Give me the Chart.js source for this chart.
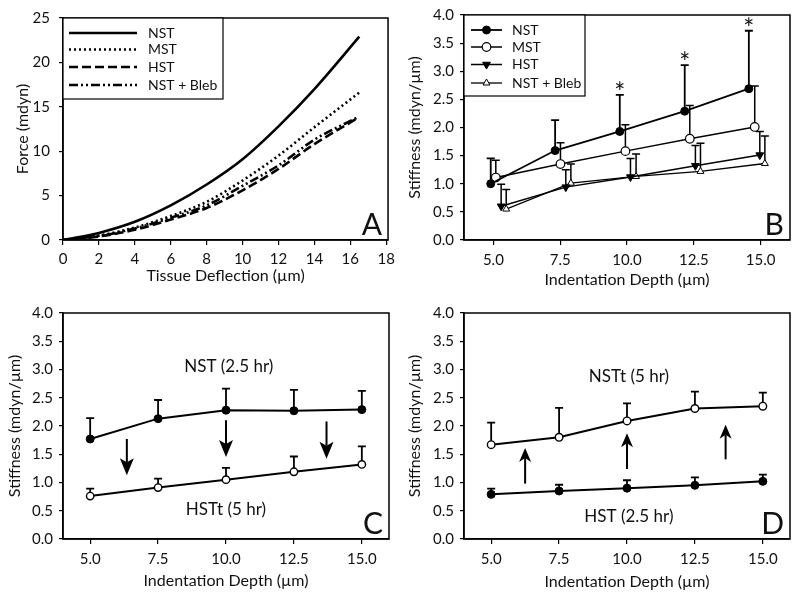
<!DOCTYPE html>
<html>
<head>
<meta charset="utf-8">
<script src="https://cdn.jsdelivr.net/npm/chart.js@4/dist/chart.umd.min.js"></script>
<style>
  body { margin: 0; background: #fff; }
  canvas { position: absolute; }
</style>
</head>
<body>
<canvas id="chartA" width="400" height="297" style="left:0;top:0"></canvas>
<canvas id="chartB" width="400" height="297" style="left:400px;top:0"></canvas>
<canvas id="chartC" width="400" height="297" style="left:0;top:298px"></canvas>
<canvas id="chartD" width="400" height="297" style="left:400px;top:298px"></canvas>
<script>
// ---- panel A: force vs tissue deflection
var deflNST = [0, 2, 4, 6, 8, 10, 12, 14, 16.5];
var forceNST = [0, 0.8, 2.05, 3.9, 6.25, 9.1, 12.8, 17.0, 22.9];
var deflMST = [0, 2, 4, 6, 8, 10, 12, 14, 16.5];
var forceMST = [0, 0.5, 1.4, 2.7, 4.3, 6.7, 9.5, 12.7, 16.6];
var deflHST = [0, 2, 4, 6, 8, 10, 12, 14, 16.3];
var forceHST = [0, 0.4, 1.15, 2.3, 3.6, 5.6, 8.0, 10.8, 13.6];
var deflBleb = [0, 2, 4, 6, 8, 10, 12, 14, 16.4];
var forceBleb = [0, 0.45, 1.3, 2.5, 3.9, 6.1, 8.4, 11.3, 13.8];
var ticksDefl = [0, 2, 4, 6, 8, 10, 12, 14, 16, 18];
var ticksForce = [0, 5, 10, 15, 20, 25];

// ---- panel B: stiffness vs depth, 4 groups (upper error bars)
var depthNST_B = [4.90, 7.31, 9.73, 12.16, 14.56];
var stiffNST_B = [1.00, 1.59, 1.93, 2.29, 2.69];
var errNST_B = [1.45, 2.13, 2.58, 3.11, 3.72];
var depthMST_B = [5.09, 7.51, 9.94, 12.35, 14.78];
var stiffMST_B = [1.11, 1.35, 1.58, 1.80, 2.01];
var errMST_B = [1.42, 1.73, 2.05, 2.39, 2.74];
var depthHST_B = [5.29, 7.71, 10.13, 12.56, 14.97];
var stiffHST_B = [0.60, 0.94, 1.12, 1.32, 1.51];
var errHST_B = [0.99, 1.25, 1.45, 1.68, 1.93];
var depthBleb_B = [5.48, 7.90, 10.34, 12.75, 15.16];
var stiffBleb_B = [0.55, 1.01, 1.13, 1.22, 1.36];
var errBleb_B = [0.90, 1.35, 1.53, 1.72, 1.85];
var starIdx_B = [2, 3, 4];

// ---- panels C and D
var depth = [5, 7.5, 10, 12.5, 15];
var ticksDepth = [5, 7.5, 10, 12.5, 15];
var ticksStiff = [0, 0.5, 1, 1.5, 2, 2.5, 3, 3.5, 4];
var stiffNST_C = [1.77, 2.13, 2.28, 2.27, 2.29];
var errNST_C = [2.14, 2.46, 2.66, 2.64, 2.62];
var stiffHSTt_C = [0.76, 0.91, 1.05, 1.19, 1.32];
var errHSTt_C = [0.89, 1.07, 1.26, 1.46, 1.64];
var stiffNSTt_D = [1.67, 1.80, 2.09, 2.31, 2.35];
var errNSTt_D = [2.06, 2.32, 2.40, 2.61, 2.59];
var stiffHST_D = [0.79, 0.85, 0.90, 0.95, 1.02];
var errHST_D = [0.89, 0.96, 1.04, 1.09, 1.14];

// arrows: x position, start value, end value
var arrowX_C = [6.35, 10.0, 13.7];
var arrowFrom_C = [1.77, 2.10, 2.08];
var arrowTo_C = [1.13, 1.45, 1.42];
var arrowX_D = [6.25, 10.0, 13.63];
var arrowFrom_D = [0.98, 1.24, 1.41];
var arrowTo_D = [1.61, 1.87, 2.02];

var FONT = 'Lato';
var INK = '#111';
var TICK_SIZE = 15;
var TITLE_SIZE = 16;

function pts(xs, ys) {
  return xs.map(function (x, i) { return { x: x, y: ys[i] }; });
}

function decor(cfg) {
  return {
    id: 'decor' + cfg.letter,
    beforeDatasetsDraw: function (chart) {
      var ctx = chart.ctx, sx = chart.scales.x, sy = chart.scales.y;
      ctx.save();
      ctx.strokeStyle = '#000';
      chart.data.datasets.forEach(function (ds) {
        if (!ds.errUp) return;
        ctx.lineWidth = ds.errWidth || 1.5;
        ds.data.forEach(function (p, i) {
          var x = sx.getPixelForValue(p.x);
          var y0 = sy.getPixelForValue(p.y);
          var y1 = sy.getPixelForValue(ds.errUp[i]);
          ctx.beginPath();
          ctx.moveTo(x, y0); ctx.lineTo(x, y1);
          ctx.moveTo(x - 4, y1); ctx.lineTo(x + 4, y1);
          ctx.stroke();
        });
      });
      ctx.restore();
    },
    afterDraw: function (chart) {
      var ctx = chart.ctx, a = chart.chartArea, sx = chart.scales.x, sy = chart.scales.y;
      ctx.save();
      // frame
      ctx.strokeStyle = '#000';
      ctx.lineWidth = 1.5;
      ctx.strokeRect(a.left, a.top, a.right - a.left, a.bottom - a.top);

      // arrows
      if (cfg.arrows) {
        var ar = cfg.arrows, hw = ar.headW, hl = ar.headL;
        ar.x.forEach(function (xv, i) {
          var x = sx.getPixelForValue(xv);
          var y0 = sy.getPixelForValue(ar.from[i]);
          var y1 = sy.getPixelForValue(ar.to[i]);
          var dir = y1 > y0 ? 1 : -1;
          ctx.lineWidth = 2;
          ctx.beginPath(); ctx.moveTo(x, y0); ctx.lineTo(x, y1 - dir * (hl - 4)); ctx.stroke();
          ctx.fillStyle = '#000';
          ctx.beginPath();
          ctx.moveTo(x, y1);
          ctx.lineTo(x - hw, y1 - dir * hl);
          ctx.lineTo(x, y1 - dir * (hl - 4));
          ctx.lineTo(x + hw, y1 - dir * hl);
          ctx.closePath();
          ctx.fill();
        });
      }

      // text notes
      ctx.fillStyle = INK;
      if (cfg.notes) {
        ctx.font = '17px ' + FONT;
        ctx.textAlign = 'center';
        ctx.textBaseline = 'middle';
        cfg.notes.forEach(function (n) {
          ctx.fillText(n.text, sx.getPixelForValue(n.x), sy.getPixelForValue(n.y));
        });
      }

      // significance stars above the NST error caps
      if (cfg.stars) {
        var ds = chart.data.datasets[cfg.stars.dataset];
        ctx.font = '26px ' + FONT;
        ctx.textAlign = 'center';
        ctx.textBaseline = 'alphabetic';
        cfg.stars.idx.forEach(function (i) {
          ctx.fillText('*', sx.getPixelForValue(ds.data[i].x), sy.getPixelForValue(ds.errUp[i]) + 7);
        });
      }

      // panel letter
      ctx.font = '30px ' + FONT;
      ctx.textAlign = 'right';
      ctx.textBaseline = 'alphabetic';
      ctx.fillText(cfg.letter, a.right - 6, a.bottom - 5);

      // boxed legend
      if (cfg.legend) {
        var lg = cfg.legend;
        var bx = a.left, by = a.top;
        ctx.fillStyle = '#fff';
        ctx.fillRect(bx, by, lg.w, lg.h);
        ctx.lineWidth = 1.2;
        ctx.strokeStyle = '#000';
        ctx.strokeRect(bx, by, lg.w, lg.h);
        chart.data.datasets.forEach(function (d, i) {
          var y = by + lg.rows[i];
          ctx.strokeStyle = '#000';
          ctx.lineWidth = d.borderWidth;
          ctx.setLineDash(d.borderDash || []);
          ctx.beginPath();
          ctx.moveTo(bx + lg.x0, y); ctx.lineTo(bx + lg.x1, y);
          ctx.stroke();
          ctx.setLineDash([]);
          if (d.pointRadius > 0) {
            ctx.fillStyle = d.pointBackgroundColor;
            ctx.strokeStyle = '#000';
            ctx.lineWidth = d.pointBorderWidth;
            Chart.helpers.drawPoint(ctx, {
              pointStyle: d.pointStyle, radius: d.pointRadius,
              rotation: d.pointRotation || 0, borderWidth: d.pointBorderWidth
            }, bx + (lg.x0 + lg.x1) / 2, y);
          }
          ctx.fillStyle = INK;
          ctx.font = '14px ' + FONT;
          ctx.textAlign = 'left';
          ctx.textBaseline = 'middle';
          ctx.fillText(d.label, bx + lg.tx, y);
        });
      }
      ctx.restore();
    }
  };
}

function axes(o) {
  return {
    x: {
      type: 'linear', min: o.xmin, max: o.xmax,
      afterBuildTicks: function (s) { s.ticks = o.xticks.map(function (v) { return { value: v }; }); },
      afterFit: function (s) { s.height = o.xh; },
      grid: { drawOnChartArea: false, tickLength: 5, color: '#000', lineWidth: 1.2 },
      border: { color: '#000', width: 1.5 },
      ticks: {
        color: INK, font: { family: FONT, size: TICK_SIZE }, padding: o.xpad, maxRotation: 0,
        callback: o.xfmt
      },
      title: { display: true, text: o.xtitle, color: INK, font: { family: FONT, size: TITLE_SIZE }, padding: { top: 0, bottom: o.xtpad } }
    },
    y: {
      type: 'linear', min: o.ymin, max: o.ymax,
      afterBuildTicks: function (s) { s.ticks = o.yticks.map(function (v) { return { value: v }; }); },
      afterFit: function (s) { s.width = o.yw; },
      grid: { drawOnChartArea: false, tickLength: 4, color: '#000', lineWidth: 1.2 },
      border: { color: '#000', width: 1.5 },
      ticks: { color: INK, font: { family: FONT, size: TICK_SIZE }, padding: o.ypad, callback: o.yfmt },
      title: { display: true, text: o.ytitle, color: INK, font: { family: FONT, size: TITLE_SIZE }, padding: { top: o.ytpad, bottom: 0 } }
    }
  };
}

function baseOptions(pad, scales) {
  return {
    responsive: false,
    animation: false,
    events: [],
    layout: { padding: pad },
    plugins: { legend: { display: false }, tooltip: { enabled: false } },
    scales: scales
  };
}

var fmt1 = function (v) { return Number(v).toFixed(1); };
var fmt0 = function (v) { return String(v); };

// ---------------- A
new Chart(document.getElementById('chartA'), {
  type: 'line',
  data: {
    datasets: [
      { label: 'NST', data: pts(deflNST, forceNST), borderColor: '#000', borderWidth: 2.6, pointRadius: 0, cubicInterpolationMode: 'monotone' },
      { label: 'MST', data: pts(deflMST, forceMST), borderColor: '#000', borderWidth: 2.6, borderDash: [2, 3], pointRadius: 0, cubicInterpolationMode: 'monotone' },
      { label: 'HST', data: pts(deflHST, forceHST), borderColor: '#000', borderWidth: 2.6, borderDash: [9, 4], pointRadius: 0, cubicInterpolationMode: 'monotone' },
      { label: 'NST + Bleb', data: pts(deflBleb, forceBleb), borderColor: '#000', borderWidth: 2.6, borderDash: [9, 3, 2, 3, 2, 3], pointRadius: 0, cubicInterpolationMode: 'monotone' }
    ]
  },
  options: baseOptions({ top: 12, right: 11, left: 0, bottom: 0 }, axes({
    xmin: 0, xmax: 18.1, xticks: ticksDefl, xh: 57, xpad: 5, xtpad: 12, xfmt: fmt0, xtitle: 'Tissue Deflection (\u00b5m)',
    ymin: 0, ymax: 25, yticks: ticksForce, yw: 63, ypad: 9, ytpad: 13, yfmt: fmt0, ytitle: 'Force (mdyn)'
  })),
  plugins: [decor({ letter: 'A', legend: { w: 160, h: 81, rows: [15, 31.5, 49, 67], x0: 6, x1: 74, tx: 85 } })]
});

// ---------------- B
new Chart(document.getElementById('chartB'), {
  type: 'line',
  data: {
    datasets: [
      { label: 'NST', data: pts(depthNST_B, stiffNST_B), errUp: errNST_B, errWidth: 1.8, borderColor: '#000', borderWidth: 1.8,
        pointStyle: 'circle', pointRadius: 4, pointBackgroundColor: '#000', pointBorderColor: '#000', pointBorderWidth: 1 },
      { label: 'MST', data: pts(depthMST_B, stiffMST_B), errUp: errMST_B, borderColor: '#000', borderWidth: 1.5,
        pointStyle: 'circle', pointRadius: 4.3, pointBackgroundColor: '#fff', pointBorderColor: '#000', pointBorderWidth: 1.2 },
      { label: 'HST', data: pts(depthHST_B, stiffHST_B), errUp: errHST_B, borderColor: '#000', borderWidth: 1.5,
        pointStyle: 'triangle', pointRotation: 180, pointRadius: 4.5, pointBackgroundColor: '#000', pointBorderColor: '#000', pointBorderWidth: 1 },
      { label: 'NST + Bleb', data: pts(depthBleb_B, stiffBleb_B), errUp: errBleb_B, borderColor: '#000', borderWidth: 1.3,
        pointStyle: 'triangle', pointRadius: 4, pointBackgroundColor: '#fff', pointBorderColor: '#000', pointBorderWidth: 1 }
    ]
  },
  options: baseOptions({ top: 12, right: 10, left: 0, bottom: 0 }, axes({
    xmin: 3.9, xmax: 16.1, xticks: ticksDepth, xh: 57, xpad: 6, xtpad: 8, xfmt: fmt1, xtitle: 'Indentation Depth (\u00b5m)',
    ymin: 0, ymax: 4, yticks: ticksStiff, yw: 64, ypad: 6, ytpad: 5, yfmt: fmt1, ytitle: 'Stiffness (mdyn/\u00b5m)'
  })),
  plugins: [decor({ letter: 'B', stars: { dataset: 0, idx: starIdx_B },
    legend: { w: 121, h: 81, rows: [15, 32, 49.5, 68], x0: 7, x1: 38, tx: 48 } })]
});

// ---------------- C
new Chart(document.getElementById('chartC'), {
  type: 'line',
  data: {
    datasets: [
      { label: 'NST (2.5 hr)', data: pts(depth, stiffNST_C), errUp: errNST_C, errWidth: 1.8, borderColor: '#000', borderWidth: 2,
        pointStyle: 'circle', pointRadius: 4, pointBackgroundColor: '#000', pointBorderColor: '#000', pointBorderWidth: 1 },
      { label: 'HSTt (5 hr)', data: pts(depth, stiffHSTt_C), errUp: errHSTt_C, errWidth: 1.8, borderColor: '#000', borderWidth: 2,
        pointStyle: 'circle', pointRadius: 3.7, pointBackgroundColor: '#fff', pointBorderColor: '#000', pointBorderWidth: 1.4 }
    ]
  },
  options: baseOptions({ top: 14, right: 11, left: 0, bottom: 0 }, axes({
    xmin: 4, xmax: 16, xticks: ticksDepth, xh: 56, xpad: 6, xtpad: 5, xfmt: fmt1, xtitle: 'Indentation Depth (\u00b5m)',
    ymin: 0, ymax: 4, yticks: ticksStiff, yw: 63, ypad: 6, ytpad: 5, yfmt: fmt1, ytitle: 'Stiffness (mdyn/\u00b5m)'
  })),
  plugins: [decor({ letter: 'C',
    arrows: { x: arrowX_C, from: arrowFrom_C, to: arrowTo_C, headW: 7, headL: 17 },
    notes: [{ text: 'NST (2.5 hr)', x: 10.1, y: 3.06 }, { text: 'HSTt (5 hr)', x: 10.0, y: 0.52 }] })]
});

// ---------------- D
new Chart(document.getElementById('chartD'), {
  type: 'line',
  data: {
    datasets: [
      { label: 'NSTt (5 hr)', data: pts(depth, stiffNSTt_D), errUp: errNSTt_D, errWidth: 1.8, borderColor: '#000', borderWidth: 2,
        pointStyle: 'circle', pointRadius: 3.8, pointBackgroundColor: '#fff', pointBorderColor: '#000', pointBorderWidth: 1.4 },
      { label: 'HST (2.5 hr)', data: pts(depth, stiffHST_D), errUp: errHST_D, errWidth: 1.8, borderColor: '#000', borderWidth: 2,
        pointStyle: 'circle', pointRadius: 4, pointBackgroundColor: '#000', pointBorderColor: '#000', pointBorderWidth: 1 }
    ]
  },
  options: baseOptions({ top: 14, right: 10, left: 0, bottom: 0 }, axes({
    xmin: 4, xmax: 16, xticks: ticksDepth, xh: 56, xpad: 6, xtpad: 4, xfmt: fmt1, xtitle: 'Indentation Depth (\u00b5m)',
    ymin: 0, ymax: 4, yticks: ticksStiff, yw: 64, ypad: 6, ytpad: 5, yfmt: fmt1, ytitle: 'Stiffness (mdyn/\u00b5m)'
  })),
  plugins: [decor({ letter: 'D',
    arrows: { x: arrowX_D, from: arrowFrom_D, to: arrowTo_D, headW: 6, headL: 14 },
    notes: [{ text: 'NSTt (5 hr)', x: 10.07, y: 2.87 }, { text: 'HST (2.5 hr)', x: 10.07, y: 0.40 }] })]
});
</script>
</body>
</html>
